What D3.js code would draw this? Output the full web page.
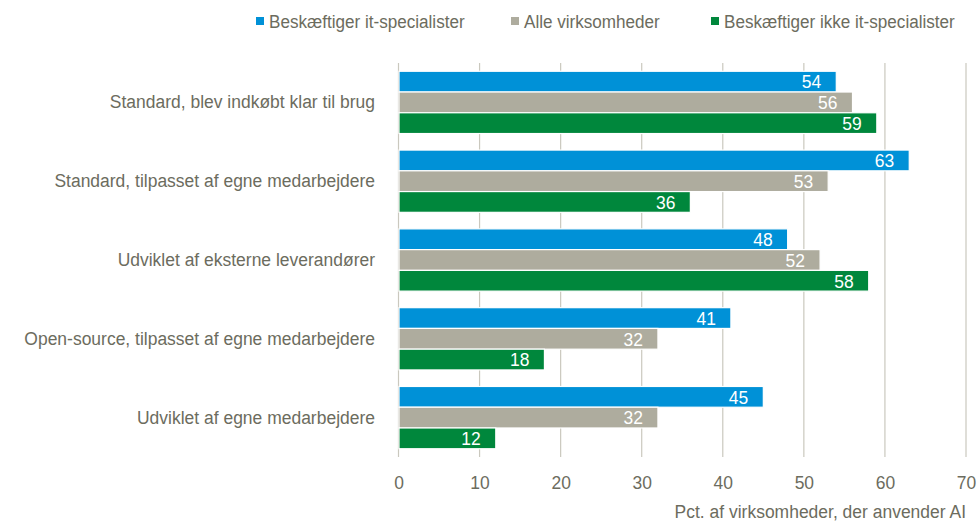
<!DOCTYPE html>
<html>
<head>
<meta charset="utf-8">
<script src="https://cdn.jsdelivr.net/npm/d3@7"></script>
<style>
  html, body { margin: 0; padding: 0; background: #fff; }
  svg text { font-family: "Liberation Sans", Arial, sans-serif; }
</style>
</head>
<body>
<svg id="chart" width="979" height="525"></svg>
<script>
const categories = [
  "Standard, blev indkøbt klar til brug",
  "Standard, tilpasset af egne medarbejdere",
  "Udviklet af eksterne leverandører",
  "Open-source, tilpasset af egne medarbejdere",
  "Udviklet af egne medarbejdere"
];
const seriesNames = ["Beskæftiger it-specialister", "Alle virksomheder", "Beskæftiger ikke it-specialister"];
const itSpecialists = [54, 63, 48, 41, 45];
const allCompanies = [56, 53, 52, 32, 32];
const noItSpecialists = [59, 36, 58, 18, 12];
const xTicks = [0, 10, 20, 30, 40, 50, 60, 70];
const axisTitle = "Pct. af virksomheder, der anvender AI";
const colors = ["#0091d7", "#aeac9e", "#00873c"];

const seriesValues = [itSpecialists, allCompanies, noItSpecialists];
const svg = d3.select("#chart");
const textColor = "#6c6c5e";
const FS = 19;
const SQUEEZE = 0.92;

// horizontally condense texts (mimics a narrow typeface)
function narrow(sel, k = SQUEEZE) {
  sel.each(function() {
    const t = d3.select(this);
    const tx = +t.attr("x") || 0, ty = +t.attr("y") || 0;
    t.attr("x", 0).attr("y", 0).attr("transform", `translate(${tx},${ty}) scale(${k},1)`);
  });
}

const x = d3.scaleLinear().domain([0, 70]).range([398.5, 966]);
const y = d3.scaleBand().domain(categories).range([63, 457]).paddingInner(0.21).paddingOuter(0.105);
const ySub = d3.scaleBand().domain(d3.range(3)).range([0, y.bandwidth()]);

// gridlines
svg.append("g").selectAll("line").data(xTicks).join("line")
  .attr("x1", d => x(d)).attr("x2", d => x(d))
  .attr("y1", 63).attr("y2", 457)
  .attr("stroke", "#cac8be").attr("stroke-width", 1.2);

// x axis tick labels
const xAxis = d3.axisBottom(x).tickValues(xTicks).tickSize(0).tickPadding(0);
const gx = svg.append("g").attr("transform", "translate(0,476)").call(xAxis);
gx.select(".domain").remove();
gx.selectAll("text").attr("fill", textColor).attr("font-size", FS)
  .attr("font-family", "'Liberation Sans', Arial, sans-serif").call(narrow);

svg.append("text").attr("x", 966).attr("y", 518).attr("text-anchor", "end")
  .attr("fill", textColor).attr("font-size", FS).text(axisTitle).call(narrow);

// category labels
const yAxis = d3.axisLeft(y).tickSize(0).tickPadding(0);
const gy = svg.append("g").attr("transform", "translate(375,0)").call(yAxis);
gy.select(".domain").remove();
gy.selectAll("text").attr("fill", textColor).attr("font-size", FS)
  .attr("font-family", "'Liberation Sans', Arial, sans-serif").call(narrow);

// bars
const groups = svg.append("g").selectAll("g").data(categories).join("g")
  .attr("transform", d => `translate(0,${y(d)})`);

groups.each(function(cat, ci) {
  const g = d3.select(this);
  const data = seriesValues.map((vals, si) => ({ si, v: vals[ci] }));
  g.selectAll("rect").data(data).join("rect")
    .attr("x", x(0) + 0.5)
    .attr("y", d => ySub(d.si))
    .attr("width", d => x(d.v) - x(0) - 0.5)
    .attr("height", ySub.bandwidth())
    .attr("fill", d => colors[d.si])
    .attr("stroke", "#ffffff").attr("stroke-width", 1.2);
  g.selectAll("text.val").data(data).join("text")
    .attr("class", "val")
    .attr("x", d => x(d.v) - 15)
    .attr("y", d => ySub(d.si) + ySub.bandwidth() / 2)
    .attr("dy", "0.36em")
    .attr("text-anchor", "end")
    .attr("fill", "#ffffff").attr("font-size", FS)
    .text(d => d.v)
    .call(narrow);
});

// legend
const legendX = [256, 511, 711];
const legend = svg.append("g").selectAll("g").data(seriesNames).join("g")
  .attr("transform", (d, i) => `translate(${legendX[i]},17)`);
legend.append("rect").attr("width", 8).attr("height", 8).attr("fill", (d, i) => colors[i]);
legend.append("text").attr("x", 13).attr("y", 4).attr("dy", "0.36em")
  .attr("fill", textColor).attr("font-size", FS).text(d => d).call(narrow, 0.9);
</script>
</body>
</html>
